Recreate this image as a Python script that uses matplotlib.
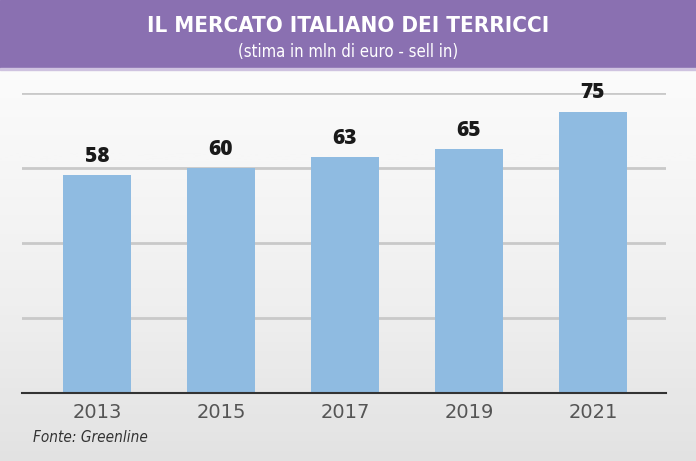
import matplotlib.pyplot as plt
import numpy as np
from matplotlib.patches import Rectangle

# Dati
anni = ['2013', '2015', '2017', '2019', '2021']
valori = [58, 60, 63, 65, 75]

titolo = 'IL MERCATO ITALIANO DEI TERRICCI'
sottotitolo = '(stima in mln di euro - sell in)'
fonte = 'Fonte: Greenline'

fig = plt.figure(figsize=(6.96, 4.61), dpi=100)

# Sfondo sfumato: bianco in alto, grigio chiaro in basso
bg = fig.add_axes([0, 0, 1, 1], zorder=0)
grad = np.linspace(0, 1, 256).reshape(-1, 1)
bg.imshow(grad, aspect='auto', cmap='Greys_r', vmin=-4, vmax=1,
          extent=[0, 1, 0, 1], origin='lower')
bg.set_xlim(0, 1)
bg.set_ylim(0, 1)
bg.axis('off')

# Fascia viola del titolo
bg.add_patch(Rectangle((0, 1 - 68 / 461), 1, 68 / 461, color='#8a70b1', zorder=2))
bg.add_patch(Rectangle((0, 1 - 70 / 461), 1, 2 / 461, color='#cfc3e0', zorder=2))
fig.text(0.5, 1 - 26 / 461, titolo, ha='center', va='center', color='white',
         fontsize=16, fontweight='bold', family='DejaVu Sans', fontstretch='condensed', zorder=3)
fig.text(0.5, 1 - 52 / 461, sottotitolo, ha='center', va='center', color='white',
         fontsize=12, family='DejaVu Sans', fontstretch='condensed', zorder=3)

# Grafico a barre
ax = fig.add_axes([22 / 696, 68 / 461, 644 / 696, 300 / 461], zorder=1)
ax.patch.set_visible(False)
x = np.arange(len(anni))
ax.bar(x, valori, width=0.55, color='#8fbbe1', zorder=2)
for xi, v in zip(x, valori):
    ax.text(xi, v + 2.2, str(v), ha='center', va='bottom', fontsize=15,
            fontweight='heavy', family='Open Sans', color='#1a1a1a', zorder=4)

ax.set_xlim(-0.605, 4.59)
ax.set_ylim(0, 80)
ax.set_yticks([20, 40, 60, 80])
ax.grid(axis='y', color='#c9c9c9', linewidth=2, zorder=1)
ax.tick_params(axis='y', left=False, labelleft=False)
ax.tick_params(axis='x', length=0, pad=7)
ax.set_xticks(x)
ax.set_xticklabels(anni, family='DejaVu Sans', fontsize=14, color='#555555')
for s in ['top', 'right', 'left']:
    ax.spines[s].set_visible(False)
ax.spines['bottom'].set_color('#333333')
ax.spines['bottom'].set_linewidth(1.5)
ax.spines['bottom'].set_zorder(3)

fig.text(33 / 696, 1 - 437 / 461, fonte, ha='left', va='center', fontsize=11,
         style='italic', family='DejaVu Sans', fontstretch='condensed', color='#333333')

fig.savefig('out.png', dpi=100)
